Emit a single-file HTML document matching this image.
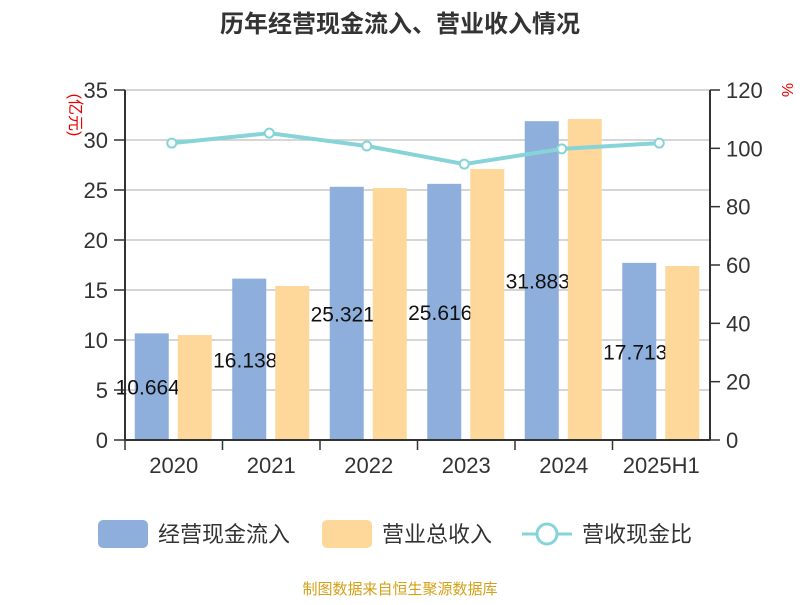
<!DOCTYPE html>
<html><head><meta charset="utf-8"><style>
body{margin:0;background:#fff;}
svg text{font-family:"Liberation Sans","Noto Sans CJK SC",sans-serif;}
</style></head><body>
<svg id="c" width="800" height="600" xmlns="http://www.w3.org/2000/svg">
<text x="400" y="32" text-anchor="middle" font-size="24" font-weight="bold" fill="#333">历年经营现金流入、营业收入情况</text>
<text transform="translate(70,115) rotate(90)" text-anchor="middle" font-size="16" fill="#e00">(亿元)</text>
<text transform="translate(782,90) rotate(90)" text-anchor="middle" font-size="16" fill="#e00">%</text>
<g id="grid"></g><g id="bars1"></g><g id="labels"></g><g id="bars2"></g><g id="line"></g><g id="axes"></g>
<g>
<rect x="98" y="520" width="50" height="28" rx="5" fill="#8eaedb"/>
<text x="158" y="542" font-size="22" fill="#333">经营现金流入</text>
<rect x="322" y="520" width="50" height="28" rx="5" fill="#fed89a"/>
<text x="382" y="542" font-size="22" fill="#333">营业总收入</text>
<line x1="522" y1="534" x2="572" y2="534" stroke="#86d4d8" stroke-width="3"/>
<circle cx="547" cy="534" r="10" fill="#fff" stroke="#86d4d8" stroke-width="3"/>
<text x="582" y="542" font-size="22" fill="#333">营收现金比</text>
</g>
<text x="400" y="594" text-anchor="middle" font-size="15" fill="#d4a017">制图数据来自恒生聚源数据库</text>
</svg>
<script>
const categories=["2020","2021","2022","2023","2024","2025H1"];
const cashIn=[10.664,16.138,25.321,25.616,31.883,17.713];
const revenue=[10.5,15.4,25.2,27.1,32.1,17.4];
const ratio=[101.8,105.2,100.8,94.6,99.8,101.8];
const leftTicks=[0,5,10,15,20,25,30,35];
const rightTicks=[0,20,40,60,80,100,120];
const NS="http://www.w3.org/2000/svg";
const x0=125,x1=710,yb=440,yt=90;
const bw=(x1-x0)/categories.length;
const yL=v=>yb-(v/35)*(yb-yt);
const yR=v=>yb-(v/120)*(yb-yt);
const xc=i=>x0+bw*(i+0.5);
function mk(tag,attrs,parent,txt){const e=document.createElementNS(NS,tag);for(const k in attrs)e.setAttribute(k,attrs[k]);if(txt!==undefined)e.textContent=txt;document.getElementById(parent).appendChild(e);return e;}
leftTicks.forEach(t=>{
 if(t>0){const g=mk('line',{x1:x0,x2:x1,y1:yL(t),y2:yL(t),stroke:'#c8c8c8','stroke-width':1.5},'grid');
 
 }
 mk('line',{x1:114,x2:x0,y1:yL(t),y2:yL(t),stroke:'#333','stroke-width':1.5},'axes');
 const l=mk('text',{x:108,y:yL(t)+8,'text-anchor':'end','font-size':22,fill:'#333'},'axes',t);
 
 
});
rightTicks.forEach(t=>{
 mk('line',{x1:x1,x2:x1+10,y1:yR(t),y2:yR(t),stroke:'#333','stroke-width':1.5},'axes');
 const l=mk('text',{x:726,y:yR(t)+8,'font-size':22,fill:'#333'},'axes',t);
 
 
});
mk('line',{x1:x0,x2:x0,y1:yt,y2:yb,stroke:'#333','stroke-width':2},'axes');
mk('line',{x1:x1,x2:x1,y1:yt,y2:yb,stroke:'#333','stroke-width':2},'axes');
mk('line',{x1:x0,x2:x1,y1:yb,y2:yb,stroke:'#333','stroke-width':2},'axes');
categories.forEach((c,i)=>{
 mk('line',{x1:x0+bw*i,x2:x0+bw*i,y1:yb,y2:yb+10,stroke:'#333','stroke-width':1.5},'axes');
 const l=mk('text',{x:xc(i),y:473,'text-anchor':'middle','font-size':22,fill:'#333'},'axes',c);
 
 
 const b=mk('rect',{x:xc(i)-39,y:yL(cashIn[i]),width:34,height:yb-yL(cashIn[i]),fill:'#8eaedb'},'bars1');
 
 
 const t=mk('text',{x:xc(i)-26,y:(yL(cashIn[i])+yb)/2+8,'text-anchor':'middle','font-size':21,fill:'#111'},'labels',cashIn[i].toFixed(3));
 
 
 const r=mk('rect',{x:xc(i)+4,y:yL(revenue[i]),width:34,height:yb-yL(revenue[i]),fill:'#fed89a'},'bars2');
 
 
});
mk('polyline',{points:ratio.map((v,i)=>xc(i)-2+','+yR(v)).join(' '),fill:'none',stroke:'#86d4d8','stroke-width':4},'line');
ratio.forEach((v,i)=>{
 const p=mk('circle',{cx:xc(i)-2,cy:yR(v),r:4.5,fill:'#fff',stroke:'#86d4d8','stroke-width':2},'line');
 
 
});
</script>
</body></html>
